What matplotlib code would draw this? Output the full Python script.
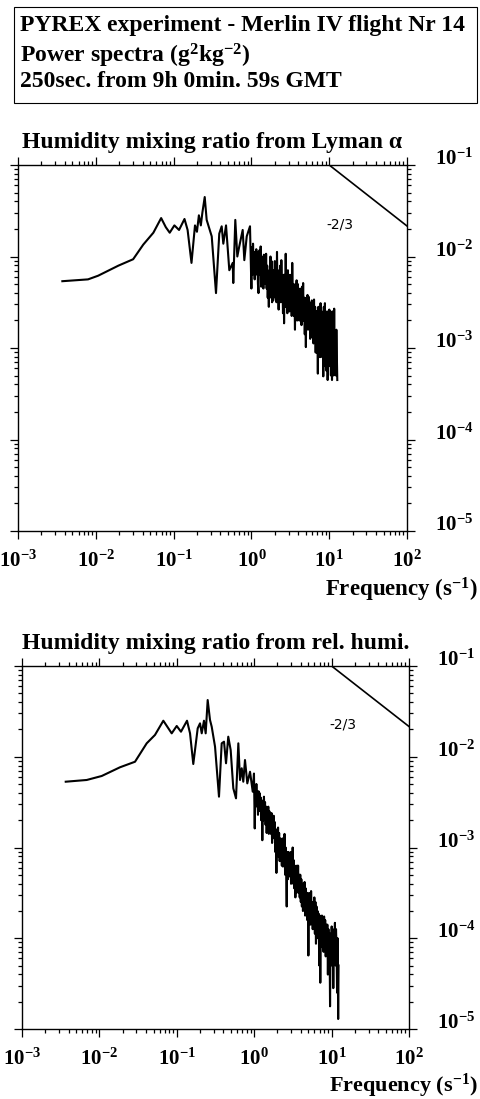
import matplotlib
matplotlib.use("Agg")
import matplotlib.pyplot as plt
from matplotlib.ticker import LogLocator, NullFormatter
import numpy as np

plt.rcParams['font.family'] = ['Liberation Serif', 'DejaVu Serif']
plt.rcParams['font.weight'] = 'bold'
plt.rcParams['mathtext.fontset'] = 'custom'
plt.rcParams['mathtext.rm'] = 'Liberation Serif:bold'
plt.rcParams['mathtext.it'] = 'Liberation Serif:bold:italic'
plt.rcParams['mathtext.bf'] = 'Liberation Serif:bold'

# spectra (log10 frequency, log10 power)
# smooth low-frequency part, then the noisy tail
lyman_logf = [-2.43, -2.10, -1.97, -1.71, -1.52, -1.39, -1.26, -1.16, -1.10, -1.05,
              -0.99, -0.93, -0.86, -0.82, -0.77, -0.725, -0.70, -0.675, -0.65, -0.63,
              -0.60, -0.575, -0.51, -0.455, -0.413, -0.382, -0.361, -0.326, -0.284, -0.24,
              -0.233, -0.207, -0.181, -0.156, -0.112, -0.091, -0.06, -0.018,
              0.000, 0.007, 0.014, 0.021, 0.028, 0.035, 0.042, 0.049, 0.056, 0.063,
              0.070, 0.077, 0.084, 0.091, 0.098, 0.105, 0.112, 0.119, 0.126, 0.133,
              0.140, 0.147, 0.154, 0.161, 0.168, 0.175, 0.182, 0.189, 0.196, 0.203,
              0.210, 0.217, 0.224, 0.231, 0.238, 0.245, 0.252, 0.259, 0.266, 0.273,
              0.280, 0.287, 0.294, 0.301, 0.308, 0.315, 0.322, 0.329, 0.336, 0.343,
              0.350, 0.357, 0.364, 0.371, 0.378, 0.385, 0.392, 0.399, 0.406, 0.413,
              0.420, 0.427, 0.434, 0.441, 0.448, 0.455, 0.462, 0.469, 0.476, 0.483,
              0.490, 0.497, 0.504, 0.511, 0.518, 0.525, 0.532, 0.539, 0.546, 0.553,
              0.560, 0.567, 0.574, 0.581, 0.588, 0.595, 0.602, 0.609, 0.616, 0.623,
              0.630, 0.637, 0.644, 0.651, 0.658, 0.665, 0.672, 0.679, 0.686, 0.693,
              0.700, 0.707, 0.714, 0.721, 0.728, 0.735, 0.742, 0.749, 0.756, 0.763,
              0.770, 0.777, 0.784, 0.791, 0.798, 0.805, 0.812, 0.819, 0.826, 0.833,
              0.840, 0.847, 0.854, 0.861, 0.868, 0.875, 0.882, 0.889, 0.896, 0.903,
              0.910, 0.917, 0.924, 0.931, 0.938, 0.945, 0.952, 0.959, 0.966, 0.973,
              0.980, 0.987, 0.994, 1.001, 1.008, 1.015, 1.022, 1.029, 1.036, 1.043,
              1.050, 1.057, 1.064, 1.071, 1.078, 1.085, 1.092, 1.099, 1.104]
lyman_logp = [-2.27, -2.25, -2.21, -2.10, -2.03, -1.87, -1.74, -1.58, -1.68, -1.74,
              -1.66, -1.71, -1.59, -1.71, -2.07, -1.66, -1.73, -1.55, -1.66, -1.52,
              -1.35, -1.60, -1.78, -2.40, -1.75, -1.67, -1.86, -1.66, -2.15, -2.07,
              -2.29, -1.60, -2.00, -1.89, -1.71, -2.04, -1.78, -1.67,
              -2.35, -1.90, -2.20, -1.86, -2.10, -1.95, -2.25, -2.05, -2.20, -1.92,
              -2.15, -1.95, -2.30, -2.40, -2.05, -1.93, -2.20, -1.89, -2.33, -2.00,
              -2.25, -2.10, -2.35, -1.98, -2.20, -2.00, -2.30, -1.97, -2.35, -2.10,
              -2.45, -2.20, -2.55, -2.15, -2.45, -2.00, -2.40, -2.05, -2.50, -2.20,
              -2.48, -2.15, -2.40, -2.05, -2.45, -2.30, -2.50, -1.95, -2.40, -2.25,
              -2.58, -2.15, -2.45, -2.10, -2.50, -2.04, -2.40, -2.30, -2.62, -2.20,
              -2.73, -2.20, -2.55, -1.97, -2.50, -2.30, -2.62, -2.15, -2.55, -2.35,
              -2.60, -2.20, -2.55, -2.30, -2.65, -2.07, -2.50, -2.30, -2.65, -2.40,
              -2.80, -2.30, -2.60, -2.26, -2.70, -2.30, -2.55, -2.35, -2.70, -2.40,
              -2.66, -2.35, -2.75, -2.33, -2.60, -2.29, -2.70, -2.45, -2.85, -2.50,
              -2.99, -2.45, -2.75, -2.42, -2.80, -2.44, -2.70, -2.50, -2.90, -2.55,
              -2.88, -2.48, -2.80, -2.50, -2.95, -2.47, -2.85, -2.55, -3.05, -2.60,
              -3.05, -2.60, -3.28, -2.55, -3.00, -2.70, -3.10, -2.51, -2.95, -2.60,
              -3.10, -2.65, -3.31, -2.55, -3.00, -2.51, -3.20, -2.70, -3.25, -2.60,
              -3.35, -2.70, -3.20, -2.58, -3.10, -2.60, -3.30, -2.75, -3.35, -2.60,
              -2.75, -3.30, -2.57, -3.25, -2.90, -3.30, -2.80, -3.10, -3.35]

rh_logf = [-2.435, -2.164, -1.970, -1.734, -1.540, -1.389, -1.282, -1.174, -1.066, -1.001,
           -0.946, -0.868, -0.829, -0.787, -0.730, -0.700, -0.678, -0.649, -0.627, -0.601,
           -0.571, -0.549, -0.506, -0.455, -0.420, -0.390, -0.364, -0.335, -0.304, -0.270,
           -0.235, -0.205, -0.183, -0.161, -0.141, -0.119, -0.089, -0.054, -0.019, -0.003,
           0.007, 0.014, 0.021, 0.028, 0.035, 0.042, 0.049, 0.056, 0.063,
           0.070, 0.077, 0.084, 0.091, 0.098, 0.105, 0.112, 0.119, 0.126, 0.133,
           0.140, 0.147, 0.154, 0.161, 0.168, 0.175, 0.182, 0.189, 0.196, 0.203,
           0.210, 0.217, 0.224, 0.231, 0.238, 0.245, 0.252, 0.259, 0.266, 0.273,
           0.280, 0.287, 0.294, 0.301, 0.308, 0.315, 0.322, 0.329, 0.336, 0.343,
           0.350, 0.357, 0.364, 0.371, 0.378, 0.385, 0.392, 0.399, 0.406, 0.413,
           0.420, 0.427, 0.434, 0.441, 0.448, 0.455, 0.462, 0.469, 0.476, 0.483,
           0.490, 0.497, 0.504, 0.511, 0.518, 0.525, 0.532, 0.539, 0.546, 0.553,
           0.560, 0.567, 0.574, 0.581, 0.588, 0.595, 0.602, 0.609, 0.616, 0.623,
           0.630, 0.637, 0.644, 0.651, 0.658, 0.665, 0.672, 0.679, 0.686, 0.693,
           0.700, 0.707, 0.714, 0.721, 0.728, 0.735, 0.742, 0.749, 0.756, 0.763,
           0.770, 0.777, 0.784, 0.791, 0.798, 0.805, 0.812, 0.819, 0.826, 0.833,
           0.840, 0.847, 0.854, 0.861, 0.868, 0.875, 0.882, 0.889, 0.896, 0.903,
           0.910, 0.917, 0.924, 0.931, 0.938, 0.945, 0.952, 0.959, 0.966, 0.973,
           0.980, 0.987, 0.994, 1.001, 1.008, 1.015, 1.022, 1.029, 1.036, 1.043,
           1.050, 1.057, 1.064, 1.071, 1.078, 1.085, 1.090]
rh_logp = [-2.275, -2.256, -2.212, -2.116, -2.055, -1.852, -1.760, -1.603, -1.742, -1.661,
           -1.724, -1.603, -1.742, -2.080, -1.687, -1.632, -1.742, -1.603, -1.742, -1.375,
           -1.595, -1.669, -1.889, -2.440, -1.852, -1.834, -2.072, -1.779, -1.926, -2.348,
           -2.458, -1.852, -2.256, -2.127, -2.275, -2.036, -2.293, -2.165, -2.385, -2.185,
           -2.79, -2.35, -2.55, -2.30, -2.50, -2.40, -2.64, -2.38, -2.55,
           -2.40, -2.60, -2.45, -2.70, -2.48, -2.92, -2.55, -2.70, -2.44, -2.65,
           -2.50, -2.75, -2.55, -2.84, -2.60, -2.70, -2.55, -2.85, -2.60, -2.80,
           -2.65, -2.85, -2.62, -2.95, -2.70, -2.85, -2.65, -2.90, -2.72, -3.05,
           -2.85, -3.28, -2.80, -3.05, -2.78, -3.10, -2.84, -3.15, -2.90, -3.05,
           -2.95, -3.20, -2.90, -3.21, -2.95, -3.10, -2.85, -3.30, -3.00, -3.25,
           -3.65, -3.05, -3.35, -3.05, -3.30, -3.10, -3.32, -3.05, -3.40, -3.15,
           -3.35, -3.00, -3.40, -3.14, -3.45, -3.20, -3.55, -3.25, -3.50, -3.20,
           -3.45, -3.20, -3.50, -3.30, -3.55, -3.30, -3.60, -3.35, -3.65, -3.40,
           -3.70, -3.40, -3.65, -3.38, -3.75, -3.45, -3.73, -3.50, -3.80, -3.50,
           -4.19, -3.55, -3.80, -3.50, -3.85, -3.48, -3.75, -3.60, -3.90, -3.60,
           -3.85, -3.55, -3.95, -3.60, -4.06, -3.65, -3.90, -3.70, -4.00, -3.73,
           -4.30, -3.75, -4.49, -3.80, -4.02, -3.75, -4.10, -3.80, -4.15, -3.76,
           -4.05, -3.80, -4.20, -3.85, -4.09, -3.85, -4.40, -3.90, -4.30, -3.95,
           -4.75, -3.95, -4.30, -3.87, -4.20, -3.90, -4.55, -3.95, -4.10, -3.83,
           -4.30, -3.90, -4.10, -4.60, -4.00, -4.89, -4.30]

# -2/3 reference slope
slope_f = [10.0, 100.0]
slope_p = [1e-1, 10 ** (-1 - 2 / 3)]

xticks = [1e-3, 1e-2, 1e-1, 1e0, 1e1, 1e2]
xtick_labels = [r'$10^{-3}$', r'$10^{-2}$', r'$10^{-1}$', r'$10^{0}$', r'$10^{1}$', r'$10^{2}$']
yticks = [1e-5, 1e-4, 1e-3, 1e-2, 1e-1]
ytick_labels = [r'$10^{-5}$', r'$10^{-4}$', r'$10^{-3}$', r'$10^{-2}$', r'$10^{-1}$']

header = ["PYREX experiment - Merlin IV flight Nr 14",
          r"Power spectra (g$^{2}$kg$^{-2}$)",
          "250sec. from 9h 0min. 59s GMT"]
header_base = [31, 62, 87]
titles = ["Humidity mixing ratio from Lyman \u03b1",
          "Humidity mixing ratio from rel. humi."]

fig = plt.figure(figsize=(4.8, 10.99), dpi=100)

# header box
fig.patches.append(plt.Rectangle((14 / 480, 1 - 103 / 1099), 463 / 480, 96 / 1099,
                                 transform=fig.transFigure, fill=False, lw=0.8, color='black'))
for line, yb in zip(header, header_base):
    fig.text(20 / 480, 1 - yb / 1099, line, fontsize=17, fontweight='bold',
             ha='left', va='baseline')


def draw_panel(rect, logf, logp, title):
    ax = fig.add_axes(rect)
    f = 10 ** np.array(logf)
    p = 10 ** np.array(logp)
    ax.plot(f, p, color='black', lw=1.5)
    ax.plot(slope_f, slope_p, color='black', lw=1.2)
    ax.set_xscale('log')
    ax.set_yscale('log')
    ax.set_xlim(1e-3, 1e2)
    ax.set_ylim(1e-5, 1e-1)
    ax.set_xticks(xticks, labels=xtick_labels)
    ax.set_yticks(yticks, labels=ytick_labels)
    ax.xaxis.set_minor_locator(LogLocator(base=10, subs=np.arange(2, 10)))
    ax.yaxis.set_minor_locator(LogLocator(base=10, subs=np.arange(2, 10)))
    ax.xaxis.set_minor_formatter(NullFormatter())
    ax.yaxis.set_minor_formatter(NullFormatter())
    ax.tick_params(which='both', direction='out', top=True, right=True, left=True, bottom=True,
                   labelleft=False, labelright=True, width=0.9)
    ax.tick_params(which='major', length=6)
    ax.tick_params(which='minor', length=3)
    ax.tick_params(axis='x', labelsize=15, pad=8)
    ax.tick_params(axis='y', labelsize=15, pad=14)
    for lbl in ax.get_yticklabels():
        lbl.set_va('baseline')
    for s in ax.spines.values():
        s.set_linewidth(1.0)
    ax.text(10 ** 1.14, 10 ** -1.65, '-2/3', fontsize=10, family='Liberation Sans Narrow',
            fontweight='normal', ha='center', va='center')
    ax.set_title(title, fontsize=17, fontweight='bold', pad=12)
    return ax


ax1 = draw_panel([18 / 480, 1 - 531 / 1099, 389 / 480, 366 / 1099], lyman_logf, lyman_logp, titles[0])
ax2 = draw_panel([22 / 480, 1 - 1029 / 1099, 387 / 480, 363 / 1099], rh_logf, rh_logp, titles[1])

fig.text(478 / 480, 1 - 597 / 1099, r'Frequency (s$^{-1}$)', fontsize=16.5, fontweight='bold',
         ha='right', va='baseline')
fig.text(478 / 480, 1 - 1092 / 1099, r'Frequency (s$^{-1}$)', fontsize=16, fontweight='bold',
         ha='right', va='baseline')

fig.savefig('out.png', dpi=100)
